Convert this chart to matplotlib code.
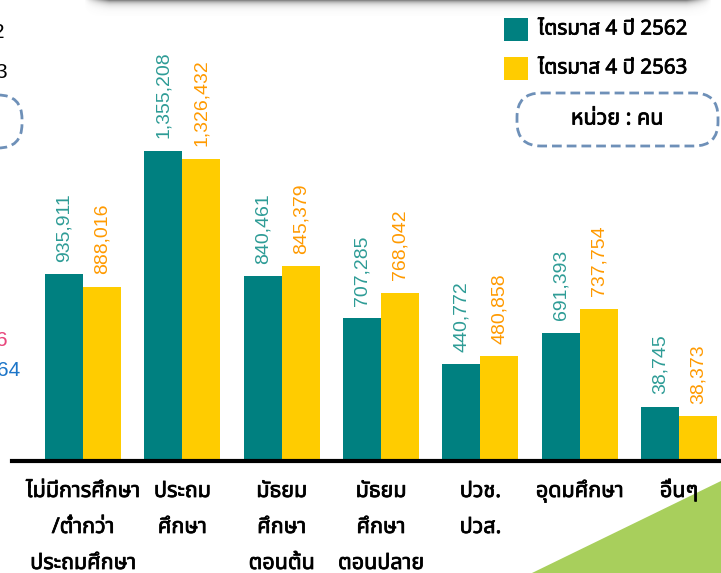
"""Employed persons by education level, Q4 2562 vs Q4 2563 (slide chart)."""
import matplotlib
matplotlib.use("Agg")
import matplotlib.pyplot as plt
import matplotlib.patheffects as pe
import numpy as np
from matplotlib import font_manager
from matplotlib.patches import FancyBboxPatch, Polygon, Rectangle

# ── data ─────────────────────────────────────────────────────────────────────
categories = [
    "ไม่มีการศึกษา\n/ต่ำกว่า\nประถมศึกษา",
    "ประถม\nศึกษา",
    "มัธยม\nศึกษา\nตอนต้น",
    "มัธยม\nศึกษา\nตอนปลาย",
    "ปวช.\nปวส.",
    "อุดมศึกษา",
    "อื่นๆ",
]
values_2562 = [935911, 1355208, 840461, 707285, 440772, 691393, 38745]
values_2563 = [888016, 1326432, 845379, 768042, 480858, 737754, 38373]
# the slide's bars are not drawn to scale -> keep the lengths as drawn
bars_2562 = [187, 310, 185, 143, 97, 128, 54]
bars_2563 = [174, 302, 195, 168, 105, 152, 45]
series_names = ["ไตรมาส 4 ปี 2562", "ไตรมาส 4 ปี 2563"]
unit_text = "หน่วย : คน"

TEAL, YELLOW = "#008080", "#FFCC00"
TEAL_TXT, ORANGE_TXT = "#2E9C96", "#FF9A00"
DASH_BLUE = "#6E90B8"
W, H = 721, 573


def find_thai_font():
    from fontTools.ttLib import TTFont
    preferred = ["Tahoma", "Leelawadee UI", "Noto Sans Thai", "Noto Sans Thai UI",
                 "Loma", "Garuda", "Waree", "Sarabun", "Tlwg Typo", "Umpush",
                 "Kinnari", "Norasi", "Sawasdee", "Laksaman", "Purisa"]
    found = {}
    for f in font_manager.fontManager.ttflist:
        try:
            cmap = TTFont(f.fname, fontNumber=0, lazy=True).getBestCmap()
        except Exception:
            continue
        if cmap and 0x0E01 in cmap:
            found.setdefault(f.name, f.fname)
    for name in preferred:
        if name in found:
            return name
    return next(iter(found), "DejaVu Sans")


THAI = [find_thai_font(), "DejaVu Sans"]
NUM = ["Liberation Sans", "DejaVu Sans"]
# the Thai face has no bold cut, so thicken it with a stroke
FAKE_BOLD = [pe.withStroke(linewidth=0.55, foreground="black")]


def main():
    fig = plt.figure(figsize=(W / 100, H / 100), dpi=100)

    # overlay in pixel coords for the slide decorations
    deco = fig.add_axes([0, 0, 1, 1], zorder=0)
    deco.set_xlim(0, W)
    deco.set_ylim(H, 0)
    deco.axis("off")

    # ── bars ────────────────────────────────────────────────────────────────
    base_px, left_px = 461, 12
    ax = fig.add_axes([left_px / W, (H - base_px) / H, (W - left_px) / W, base_px / H],
                      zorder=2)
    ax.patch.set_alpha(0)
    x = np.arange(len(categories))
    step = 99.3
    ax.set_xlim(-(83 - left_px) / step, x[-1] + (W - 679) / step)
    ax.set_ylim(0, base_px)
    bw = 38 / step

    ax.bar(x - bw / 2, bars_2562, bw, color=TEAL, linewidth=0)
    ax.bar(x + bw / 2, bars_2563, bw, color=YELLOW, linewidth=0)

    for xi, h, v in zip(x, bars_2562, values_2562):
        ax.annotate(f"{v:,}", (xi - bw / 2, h), xytext=(0, 9), textcoords="offset points",
                    rotation=90, ha="center", va="bottom", fontsize=14,
                    color=TEAL_TXT, family=NUM)
    for xi, h, v in zip(x, bars_2563, values_2563):
        ax.annotate(f"{v:,}", (xi + bw / 2, h), xytext=(0, 9), textcoords="offset points",
                    rotation=90, ha="center", va="bottom", fontsize=14,
                    color=ORANGE_TXT, family=NUM)

    for s in ["top", "right", "left"]:
        ax.spines[s].set_visible(False)
    ax.spines["bottom"].set_linewidth(3)
    ax.spines["bottom"].set_color("black")
    ax.set_yticks([])
    ax.set_xticks([])

    # category labels, one line at a time
    for xi, cat in zip(x, categories):
        for k, line in enumerate(cat.split("\n")):
            ax.text(xi, -(36 + 36 * k), line, ha="center", va="baseline",
                    fontsize=15.5, family=THAI, clip_on=False,
                    path_effects=FAKE_BOLD)

    # ── slide decorations ──────────────────────────────────────────────────
    # green corner
    deco.add_patch(Polygon([(532, H), (W, 481), (W, H)], closed=True,
                           color="#A8CF5C", lw=0))

    # shadow of the title box above
    gy = np.linspace(0, 1, 16)[:, None]
    gx = np.linspace(0, 1, 640)[None, :]
    a = np.exp(-gy * 4.5) * np.clip(np.minimum(gx, 1 - gx) * 25, 0, 1)
    rgba = np.zeros((16, 640, 4))
    rgba[..., :3] = 0.45
    rgba[..., 3] = 0.85 * a
    deco.imshow(rgba, extent=(84, 712, 16, 0), aspect="auto", zorder=1)

    # legend
    for i, (c, name) in enumerate(zip([TEAL, YELLOW], series_names)):
        y0 = 18 + 39 * i
        deco.add_patch(Rectangle((504, y0), 24, 23, color=c, lw=0))
        deco.text(538, y0 + 11.5, name, ha="left", va="center", fontsize=14.8,
                  family=THAI, path_effects=FAKE_BOLD)

    # unit box
    deco.add_patch(FancyBboxPatch((517, 93), 201, 53,
                                  boxstyle="round,pad=0,rounding_size=24",
                                  fc="white", ec=DASH_BLUE, lw=2, ls=(0, (3.5, 1.8))))
    deco.text(617, 119, unit_text, ha="center", va="center", fontsize=15.5,
              family=THAI, path_effects=FAKE_BOLD)

    # pieces of the neighbouring chart, cut off by the crop
    deco.add_patch(FancyBboxPatch((-200, 95), 222, 53,
                                  boxstyle="round,pad=0,rounding_size=24",
                                  fc="none", ec=DASH_BLUE, lw=2, ls=(0, (3.5, 1.8))))
    deco.text(5, 33, "2", ha="right", va="center", fontsize=15, family=NUM)
    deco.text(7, 72, "3", ha="right", va="center", fontsize=15, family=NUM)
    deco.text(8, 340, "6", ha="right", va="center", fontsize=15, family=NUM,
              color="#E8467C")
    deco.text(20, 370, "64", ha="right", va="center", fontsize=15, family=NUM,
              color="#1C75C8")

    fig.savefig("out.png", dpi=100)
    plt.close(fig)


if __name__ == "__main__":
    main()
